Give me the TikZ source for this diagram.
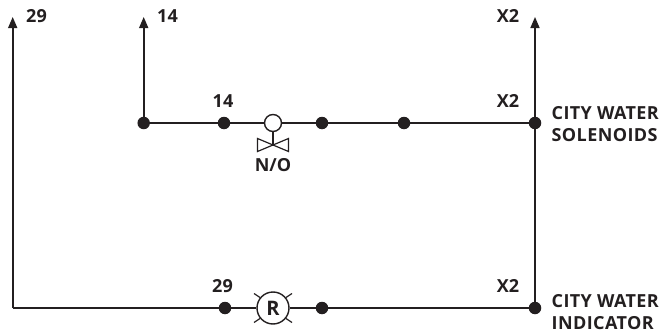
\documentclass[tikz,border=0pt]{standalone}
\usepackage{fontspec}
\setmainfont{Open Sans}
\usetikzlibrary{arrows.meta}
\definecolor{ink}{HTML}{231F20}
\tikzset{
  wire/.style={draw=ink,line width=1.6pt},
  feed/.style={wire,-{Triangle[length=11pt,width=9pt]}},
  thinline/.style={draw=ink,line width=1.2pt},
  dot/.style={circle,fill=ink,draw=none,inner sep=0pt,minimum size=12.5pt},
  lab/.style={text=ink,inner sep=0pt,font=\fontsize{18}{21.5}\selectfont\bfseries},
  caption/.style={lab,font=\fontsize{18}{21.5}\selectfont\bfseries\addfontfeatures{LetterSpace=2.2}},
  lamp/.style={circle,draw=ink,fill=white,line width=1.4pt,inner sep=0pt,minimum size=32pt,text=ink,font=\fontsize{20}{20}\selectfont\bfseries},
  coil/.style={circle,draw=ink,fill=white,line width=1.4pt,inner sep=0pt,minimum size=17pt}
}
\begin{document}
\begin{tikzpicture}[x=1pt,y=-1pt]
\useasboundingbox (0,0) rectangle (665,332);
\coordinate (t29) at (12.7,17);
\coordinate (c29) at (12.7,308);
\coordinate (t14) at (143.7,17);
\coordinate (tx2) at (535,17);
\node[dot] (d1) at (143.7,123) {};
\node[dot] (d2) at (224,123) {};
\node[dot] (d3) at (322,123) {};
\node[dot] (d4) at (404,123) {};
\node[dot] (d5) at (535,123) {};
\node[dot] (e1) at (225,308) {};
\node[dot] (e2) at (322,308) {};
\node[dot] (e3) at (535,308) {};
\node[coil] (v) at (273,123) {};
\node[lamp] (r) at (273,308) {R};
\coordinate (vc) at (273,145);
% wires
\draw[feed] (d1.center) -- (t14);
\draw[feed] (e3.center) -- (tx2);
\draw[feed] (c29) -- (t29);
\draw[wire] (c29) -- (e1.center);
\draw[wire] (e1) -- (r);
\draw[wire] (r) -- (e2);
\draw[wire] (e2) -- (e3);
\draw[wire] (d1) -- (d2);
\draw[wire] (d2) -- (v);
\draw[wire] (v) -- (d3);
\draw[wire] (d3) -- (d4);
\draw[wire] (d4) -- (d5);
% valve
\draw[thinline] (v) -- (vc);
\draw[thinline,line join=miter] (vc) -- (257.5,138.5) -- (257.5,151.5) -- (288.5,138.5) -- (288.5,151.5) -- cycle;
% lamp rays
\coordinate (r1a) at (254,293.5); \coordinate (r1b) at (260,297.5);
\coordinate (r2a) at (292,293.5); \coordinate (r2b) at (286,297.5);
\coordinate (r3a) at (254,322.5); \coordinate (r3b) at (260,318.5);
\coordinate (r4a) at (292,322.5); \coordinate (r4b) at (286,318.5);
\draw[thinline] (r1a) -- (r1b);
\draw[thinline] (r2a) -- (r2b);
\draw[thinline] (r3a) -- (r3b);
\draw[thinline] (r4a) -- (r4b);
% labels
\node[lab,anchor=base] (l29) at (36.5,22) {29};
\node[lab,anchor=base] (l14) at (167.5,22) {14};
\node[lab,anchor=base] (lx) at (508,22) {X2};
\node[lab,anchor=base] (m14) at (223,107.5) {14};
\node[lab,anchor=base] (mx) at (508,107) {X2};
\node[lab,anchor=base] (no) at (273,171) {N/O};
\node[lab,anchor=base] (b29) at (222.5,292.5) {29};
\node[lab,anchor=base] (bx) at (508,292) {X2};
\node[caption,anchor=base west] (s1) at (551.5,119.5) {CITY WATER};
\node[caption,anchor=base west] (s2) at (551.5,141) {SOLENOIDS};
\node[caption,anchor=base west] (i1) at (551.5,307.5) {CITY WATER};
\node[caption,anchor=base west] (i2) at (551.5,329) {INDICATOR};
\end{tikzpicture}
\end{document}
